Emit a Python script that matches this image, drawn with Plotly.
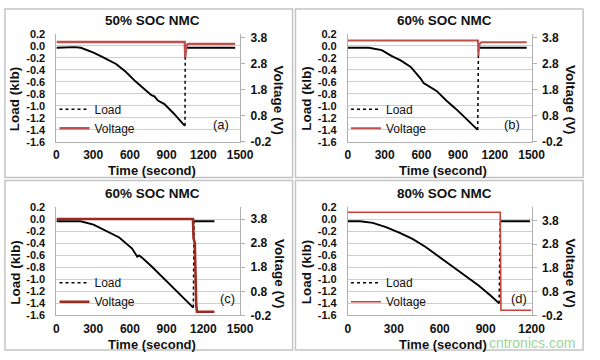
import plotly.graph_objects as go

W, H = 600, 360

# ---------------- data ----------------
PANEL_TITLES = ["50% SOC NMC", "60% SOC NMC", "60% SOC NMC", "80% SOC NMC"]
PANEL_TAGS = ["(a)", "(b)", "(c)", "(d)"]

# panel (a)
A_LOAD_T = [0, 100, 150, 200, 224, 303, 382, 487, 566, 645, 724, 776, 800, 829, 882, 960, 1039, 1050]
A_LOAD = [-0.03, -0.02, -0.02, -0.03, -0.046, -0.11, -0.19, -0.30, -0.43, -0.59, -0.73, -0.82, -0.84, -0.91, -0.97, -1.13, -1.31, -1.33]
A_AFTER_T = [1052, 1460]
A_AFTER = [-0.03, -0.03]
A_VOLT_T = [0, 1048, 1052, 1056, 1062, 1075, 1460]
A_VOLT = [3.64, 3.64, 3.05, 3.35, 3.50, 3.57, 3.57]

# panel (b)
B_LOAD_T = [0, 100, 171, 276, 355, 434, 513, 592, 618, 724, 803, 882, 961, 1060]
B_LOAD = [-0.03, -0.03, -0.03, -0.07, -0.165, -0.245, -0.35, -0.54, -0.62, -0.75, -0.91, -1.05, -1.21, -1.40]
B_AFTER_T = [1066, 1460]
B_AFTER = [-0.03, -0.03]
B_VOLT_T = [0, 1062, 1066, 1070, 1078, 1090, 1460]
B_VOLT = [3.70, 3.70, 3.11, 3.45, 3.58, 3.63, 3.63]

# panel (c)
C_LOAD_T = [0, 100, 197, 303, 408, 513, 618, 640, 660, 675, 700, 776, 855, 934, 1013, 1105, 1118]
C_LOAD = [-0.03, -0.03, -0.03, -0.085, -0.19, -0.30, -0.485, -0.56, -0.62, -0.60, -0.64, -0.78, -0.94, -1.10, -1.26, -1.44, -1.47]
C_AFTER_T = [1124, 1290]
C_AFTER = [-0.03, -0.03]
C_VOLT_T = [0, 1115, 1120, 1130, 1142, 1148, 1290]
C_VOLT = [3.80, 3.80, 3.00, 2.80, 0.20, -0.05, -0.05]

# panel (d)
D_LOAD_T = [0, 80, 162, 249, 335, 422, 508, 595, 681, 768, 854, 941, 988]
D_LOAD = [-0.03, -0.03, -0.057, -0.127, -0.218, -0.325, -0.46, -0.62, -0.77, -0.93, -1.10, -1.29, -1.40]
D_AFTER_T = [995, 1190]
D_AFTER = [-0.03, -0.03]
D_VOLT_T = [0, 995, 1000, 1200]
D_VOLT = [4.15, 4.15, 0.02, 0.02]

LOAD_TICKS = [0.2, 0.0, -0.2, -0.4, -0.6, -0.8, -1.0, -1.2, -1.4, -1.6]
LOAD_TICK_TEXT = ["0.2", "0.0", "-0.2", "-0.4", "-0.6", "-0.8", "-1.0", "-1.2", "-1.4", "-1.6"]
VOLT_TICKS = [-0.2, 0.8, 1.8, 2.8, 3.8]
VOLT_TICK_TEXT = ["-0.2", "0.8", "1.8", "2.8", "3.8"]
TIME_TICKS_1500 = [0, 300, 600, 900, 1200, 1500]
TIME_TICKS_1200 = [0, 300, 600, 900, 1200]

PANELS = [
    dict(lt=A_LOAD_T, l=A_LOAD, at=A_AFTER_T, a=A_AFTER, vt=A_VOLT_T, v=A_VOLT,
         xmax=1500, xt=TIME_TICKS_1500, vtop=3.95, vcol="#c0504d", vw=2.4),
    dict(lt=B_LOAD_T, l=B_LOAD, at=B_AFTER_T, a=B_AFTER, vt=B_VOLT_T, v=B_VOLT,
         xmax=1500, xt=TIME_TICKS_1500, vtop=3.95, vcol="#c0504d", vw=2.0),
    dict(lt=C_LOAD_T, l=C_LOAD, at=C_AFTER_T, a=C_AFTER, vt=C_VOLT_T, v=C_VOLT,
         xmax=1500, xt=TIME_TICKS_1500, vtop=4.28, vcol="#9b2a20", vw=2.6),
    dict(lt=D_LOAD_T, l=D_LOAD, at=D_AFTER_T, a=D_AFTER, vt=D_VOLT_T, v=D_VOLT,
         xmax=1200, xt=TIME_TICKS_1200, vtop=4.35, vcol="#c8403a", vw=1.6),
]

# ---------------- layout geometry (pixels) ----------------
ORIGINS = [(55, 29), (355, 29), (55, 209), (355, 209)]   # plot-area left/top
PW, PH = 189, 112
BOXES = [(2, 3, 298, 178), (301, 3, 597, 178), (2, 181, 298, 357), (301, 181, 597, 357)]

def px(x):
    return x / W

def py(y):
    return 1 - y / H

FONT = "Liberation Sans, Arial, sans-serif"
TXT = "#111111"
GRID = "#cfcfcf"
AXLINE = "#b0b0b0"
XTICKFONT = dict(size=12, family=FONT, weight="bold", color=TXT)
YTICKFONT = dict(size=11, family=FONT, weight="bold", color=TXT)

fig = go.Figure()
layout = dict(
    width=W, height=H, margin=dict(l=0, r=0, t=0, b=0),
    paper_bgcolor="white", plot_bgcolor="white",
    showlegend=True, shapes=[], annotations=[],
    font=dict(family=FONT, color=TXT),
)

for i, p in enumerate(PANELS):
    n = i + 1
    sfx = "" if n == 1 else str(n)
    xa, ya, ya2 = "x" + sfx, "y" + sfx, "y" + str(n + 4)
    leg = "legend" + sfx
    x0, y0 = ORIGINS[i]

    fig.add_trace(go.Scatter(x=p["lt"], y=p["l"], mode="lines", xaxis=xa, yaxis=ya,
                             line=dict(color="black", width=1.9), showlegend=False,
                             legend=leg, hoverinfo="skip"))
    fig.add_trace(go.Scatter(x=p["at"], y=p["a"], mode="lines", xaxis=xa, yaxis=ya,
                             line=dict(color="black", width=1.9), showlegend=False,
                             legend=leg, hoverinfo="skip"))
    fig.add_trace(go.Scatter(x=[p["lt"][-1], p["at"][0]], y=[p["l"][-1], p["a"][0]],
                             mode="lines", xaxis=xa, yaxis=ya, name="Load",
                             line=dict(color="black", width=1.5, dash="dot"),
                             legend=leg, hoverinfo="skip"))
    fig.add_trace(go.Scatter(x=p["vt"], y=p["v"], mode="lines", xaxis=xa, yaxis=ya2,
                             name="Voltage", line=dict(color=p["vcol"], width=p["vw"]),
                             legend=leg, hoverinfo="skip"))

    xdom = [px(x0), px(x0 + PW)]
    ydom = [py(y0 + PH), py(y0)]
    layout["xaxis" + sfx] = dict(
        domain=xdom, anchor=ya, range=[0, p["xmax"]], tickvals=p["xt"],
        showgrid=False, zeroline=False, showline=True, linecolor=AXLINE, linewidth=1,
        ticks="", tickfont=XTICKFONT, ticklabelstandoff=2, fixedrange=True,
    )
    layout["yaxis" + sfx] = dict(
        domain=ydom, anchor=xa, range=[-1.6, 0.2], tickvals=LOAD_TICKS, ticktext=LOAD_TICK_TEXT,
        showgrid=True, gridcolor=GRID, gridwidth=1, zeroline=False,
        showline=True, linecolor=AXLINE, linewidth=1, ticks="",
        tickfont=YTICKFONT, ticklabelstandoff=8, fixedrange=True,
    )
    layout["yaxis" + str(n + 4)] = dict(
        overlaying=ya, anchor=xa, side="right", range=[-0.2, p["vtop"]],
        tickvals=VOLT_TICKS, ticktext=VOLT_TICK_TEXT, showgrid=False, zeroline=False,
        showline=True, linecolor=AXLINE, linewidth=1, ticks="outside", ticklen=4,
        tickcolor=AXLINE, tickfont=XTICKFONT, ticklabelstandoff=3, fixedrange=True,
    )
    layout[leg] = dict(
        x=px(x0 - 2), y=py(y0 + 63), xanchor="left", yanchor="top",
        bgcolor="rgba(0,0,0,0)", borderwidth=0, itemwidth=30,
        font=dict(size=12, family=FONT, color=TXT),
        tracegroupgap=0,
    )

    bx0, by0, bx1, by1 = BOXES[i]
    layout["shapes"].append(dict(type="rect", xref="paper", yref="paper",
                                 x0=px(bx0), x1=px(bx1), y0=py(by1), y1=py(by0),
                                 line=dict(color="#c4c4c4", width=1.5), layer="below"))
    layout["annotations"].append(dict(text=PANEL_TITLES[i], xref="paper", yref="paper",
                                      x=px(x0 + 99), y=py(y0 - 14), showarrow=False,
                                      xanchor="center", yanchor="middle",
                                      font=dict(size=13.5, family=FONT, weight="bold", color=TXT)))
    layout["annotations"].append(dict(text="Time (second)", xref="paper", yref="paper",
                                      x=px(x0 + 98), y=py(y0 + 142), showarrow=False,
                                      xanchor="center", yanchor="middle",
                                      font=dict(size=13, family=FONT, weight="bold", color=TXT)))
    layout["annotations"].append(dict(text="Load (klb)", xref="paper", yref="paper",
                                      x=px(x0 - 43), y=py(y0 + 67), showarrow=False,
                                      textangle=-90, xanchor="center", yanchor="middle",
                                      font=dict(size=13.5, family=FONT, weight="bold", color=TXT)))
    layout["annotations"].append(dict(text="Voltage (V)", xref="paper", yref="paper",
                                      x=px(x0 + 229), y=py(y0 + 69), showarrow=False,
                                      textangle=90, xanchor="center", yanchor="middle",
                                      font=dict(size=13.5, family=FONT, weight="bold", color=TXT)))
    layout["annotations"].append(dict(text=PANEL_TAGS[i], xref="paper", yref="paper",
                                      x=px(x0 + 169 + (7 if i >= 2 else 0)), y=py(y0 + 94),
                                      showarrow=False, xanchor="center", yanchor="middle",
                                      font=dict(size=13, family=FONT, color=TXT)))

# watermark seen on the source image
layout["annotations"].append(dict(text="cntronics.com", xref="paper", yref="paper",
                                  x=px(498), y=py(350), showarrow=False, xanchor="left",
                                  yanchor="middle", opacity=0.75,
                                  font=dict(size=14, family=FONT, color="#7cc67c")))

fig.update_layout(**layout)
fig.write_html("out.html", config={"displayModeBar": False},
               post_script="document.body.style.margin='0';document.body.style.padding='0';")
